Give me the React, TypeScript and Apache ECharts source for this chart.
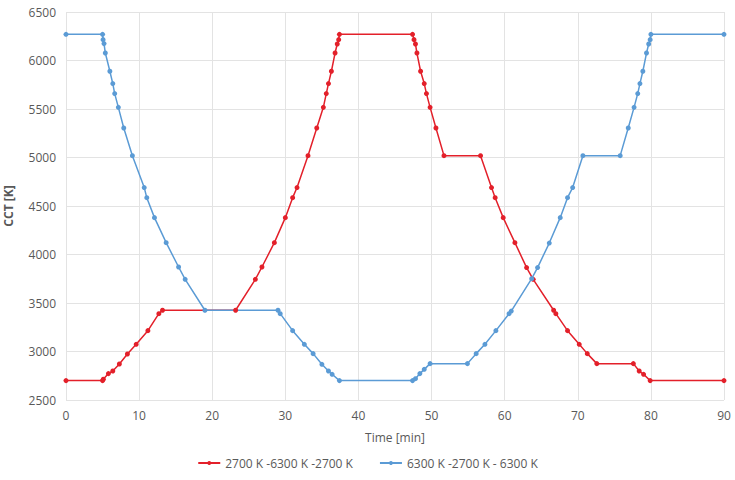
import React, { useEffect, useRef } from "react";
import * as echarts from "echarts";

const xTicks = [0, 10, 20, 30, 40, 50, 60, 70, 80, 90];
const yTicks = [2500, 3000, 3500, 4000, 4500, 5000, 5500, 6000, 6500];

const redName = "2700 K -6300 K -2700 K";
const redTime = [0, 5, 5.1, 5.8, 6.4, 7.3, 8.4, 9.6, 11.2, 12.7, 13.2, 23.2, 25.9, 26.8, 28.5, 30.0, 31.0, 31.6, 33.1, 34.3, 35.2, 35.6, 35.9, 36.3, 36.8, 37.1, 37.3, 37.4, 47.4, 47.6, 47.8, 48.0, 48.5, 49.0, 49.3, 49.8, 50.6, 51.7, 56.7, 58.2, 58.7, 59.8, 61.4, 63.0, 63.9, 66.7, 67.0, 68.6, 70.2, 71.3, 72.6, 77.6, 78.4, 79.0, 79.9, 90];
const redCCT = [2700, 2700, 2714, 2772, 2799, 2871, 2974, 3074, 3215, 3390, 3425, 3425, 3744, 3871, 4122, 4380, 4586, 4690, 5019, 5304, 5517, 5659, 5762, 5889, 6077, 6170, 6215, 6270, 6270, 6215, 6170, 6077, 5889, 5762, 5659, 5517, 5304, 5019, 5019, 4690, 4586, 4380, 4122, 3865, 3744, 3425, 3390, 3215, 3074, 2978, 2875, 2875, 2799, 2765, 2700, 2700];

const blueName = "6300 K -2700 K - 6300 K";
const blueTime = [0, 5, 5.07, 5.2, 5.38, 6.0, 6.4, 6.66, 7.16, 7.9, 9.08, 10.7, 11.05, 12.1, 13.7, 15.4, 16.3, 19.0, 29.0, 29.3, 31.0, 32.6, 33.8, 35.0, 35.9, 36.4, 37.4, 47.4, 47.8, 48.4, 49.0, 49.8, 54.9, 56.1, 57.3, 58.8, 60.6, 60.9, 63.7, 64.5, 66.1, 67.6, 68.6, 69.3, 70.7, 75.8, 76.9, 77.7, 78.2, 78.5, 78.9, 79.4, 79.7, 79.9, 80.0, 90];
const blueCCT = [6270, 6270, 6215, 6174, 6077, 5889, 5762, 5659, 5517, 5304, 5019, 4690, 4586, 4380, 4122, 3871, 3744, 3425, 3425, 3390, 3215, 3074, 2978, 2868, 2799, 2765, 2700, 2700, 2720, 2772, 2816, 2875, 2875, 2978, 3074, 3215, 3390, 3417, 3751, 3865, 4118, 4380, 4586, 4690, 5019, 5019, 5304, 5517, 5659, 5762, 5889, 6077, 6170, 6215, 6270, 6270];

const xTitle = "Time [min]";
const yTitle = "CCT [K]";

const zip = (a: number[], b: number[]) => a.map((v, i) => [v, b[i]]);

export default function App() {
  const ref = useRef<HTMLDivElement>(null);
  useEffect(() => {
    if (!ref.current) return;
    const chart = echarts.init(ref.current, undefined, { renderer: "svg" });
    const font = "'Open Sans', sans-serif";
    const labelColor = "#595959";
    chart.setOption({
      animation: false,
      textStyle: { fontFamily: font },
      grid: { left: 66, right: 11, top: 12, bottom: 80, containLabel: false, outerBoundsMode: "none" },
      xAxis: {
        type: "value",
        min: xTicks[0],
        max: xTicks[xTicks.length - 1],
        interval: 10,
        name: xTitle,
        nameLocation: "middle",
        nameGap: 31,
        nameTextStyle: { color: labelColor, fontSize: 12, fontFamily: font },
        axisLine: { show: false },
        axisTick: { show: false },
        axisLabel: { color: labelColor, fontSize: 12, margin: 9, fontFamily: font, formatter: (v: number) => String(v) },
        splitLine: { show: true, lineStyle: { color: "#e3e3e3", width: 1 } },
      },
      yAxis: {
        type: "value",
        min: yTicks[0],
        max: yTicks[yTicks.length - 1],
        interval: 500,
        name: yTitle,
        nameLocation: "middle",
        nameGap: 52,
        nameTextStyle: { color: labelColor, fontSize: 12, fontWeight: "bold", fontFamily: font },
        axisLine: { show: false },
        axisTick: { show: false },
        axisLabel: { color: labelColor, fontSize: 12, margin: 10, fontFamily: font, formatter: (v: number) => String(v) },
        splitLine: { show: true, lineStyle: { color: "#e3e3e3", width: 1 } },
      },
      legend: {
        bottom: 6,
        left: "center",
        itemWidth: 22,
        itemHeight: 5,
        itemGap: 26,
        textStyle: { color: labelColor, fontSize: 12, fontFamily: font },
        data: [redName, blueName],
      },
      series: [
        {
          name: redName,
          type: "line",
          data: zip(redTime, redCCT),
          color: "#e3202a",
          symbol: "circle",
          symbolSize: 5,
          lineStyle: { width: 1.5, color: "#e3202a" },
          itemStyle: { color: "#e3202a" },
        },
        {
          name: blueName,
          type: "line",
          data: zip(blueTime, blueCCT),
          color: "#5b9bd5",
          symbol: "circle",
          symbolSize: 5,
          lineStyle: { width: 1.5, color: "#5b9bd5" },
          itemStyle: { color: "#5b9bd5" },
        },
      ],
    });
    return () => chart.dispose();
  }, []);
  return <div ref={ref} style={{ width: 735, height: 480, position: "absolute", left: 0, top: 0 }} />;
}
